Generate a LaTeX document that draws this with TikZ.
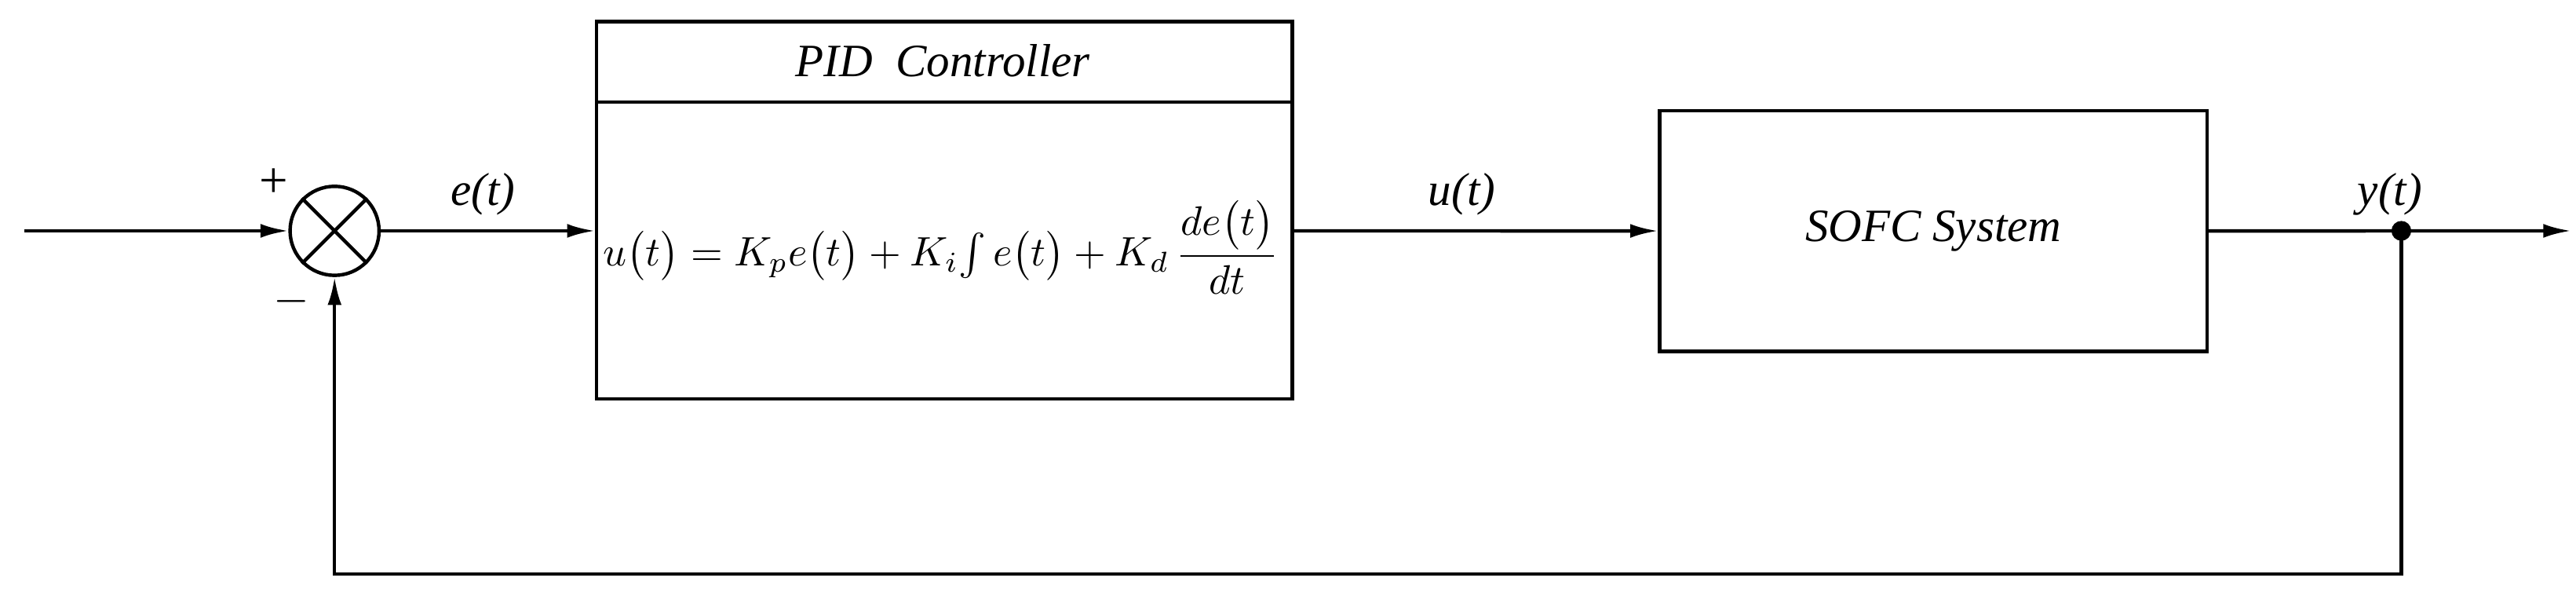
\documentclass[tikz,border=0pt]{standalone}
\usepackage{amsmath}
\usepackage{graphicx}
\usepackage{fontspec}
\setmainfont{Liberation Serif}
\usetikzlibrary{arrows.meta}
\begin{document}
\begin{tikzpicture}[x=0.05cm,y=-0.05cm,
  line width=3pt,
  arr/.style={-{Latex[length=24pt,width=12pt]}},
  lbl/.style={font=\fontsize{40}{46}\selectfont\itshape},
  blk/.style={draw,line width=3pt}]
\useasboundingbox (0,0) rectangle (1563,361);
\node[circle,draw,minimum size=2.7cm,inner sep=0pt,line width=3pt] (sum) at (203,140) {};
\draw (sum.north west) -- (sum.south east) (sum.north east) -- (sum.south west);
\coordinate (in) at (15,140);
\draw[arr] (in) -- (sum.west);
\node[font=\fontsize{44}{48}\selectfont] (plus) at (166,111) {+};
\node[font=\fontsize{36}{40}\selectfont] (minus) at (177,183) {\scalebox{1.6}{$-$}};
\node[blk,minimum width=21.1cm,minimum height=11.45cm,anchor=north west] (pid) at (361,12) {};
\coordinate (d1) at (361,62); \coordinate (d2) at (783,62);
\draw (d1) -- (d2);
\node[lbl] (pidt) at (572,37) {PID\ \ Controller};
\node (eq) at (571,150) {\scalebox{3.55}{$u\bigl(t\bigr)=K_p e\bigl(t\bigr)+K_i\!\int e\bigl(t\bigr)+K_d\,\dfrac{de\bigl(t\bigr)}{dt}$}};
\draw[arr] (sum.east) -- (pid.west |- sum.east);
\node[lbl] (e) at (293,118) {e(t)};
\node[blk,minimum width=16.6cm,minimum height=7.3cm,anchor=north west] (sofc) at (1006,66) {};
\node[lbl] at (sofc.center) {SOFC System};
\draw[arr] (pid.east |- sum.east) -- (sofc.west);
\node[lbl] (u) at (887,118) {u(t)};
\coordinate (br) at (1457,140);
\coordinate (out) at (1560,140);
\draw[arr] (sofc.east) -- (out);
\fill (br) circle (6);
\node[lbl] (y) at (1450,118) {y(t)};
\coordinate (c1) at (1457,348); \coordinate (c2) at (203,348);
\draw[arr] (br) -- (c1) -- (c2) -- (sum.south);
\end{tikzpicture}
\end{document}
